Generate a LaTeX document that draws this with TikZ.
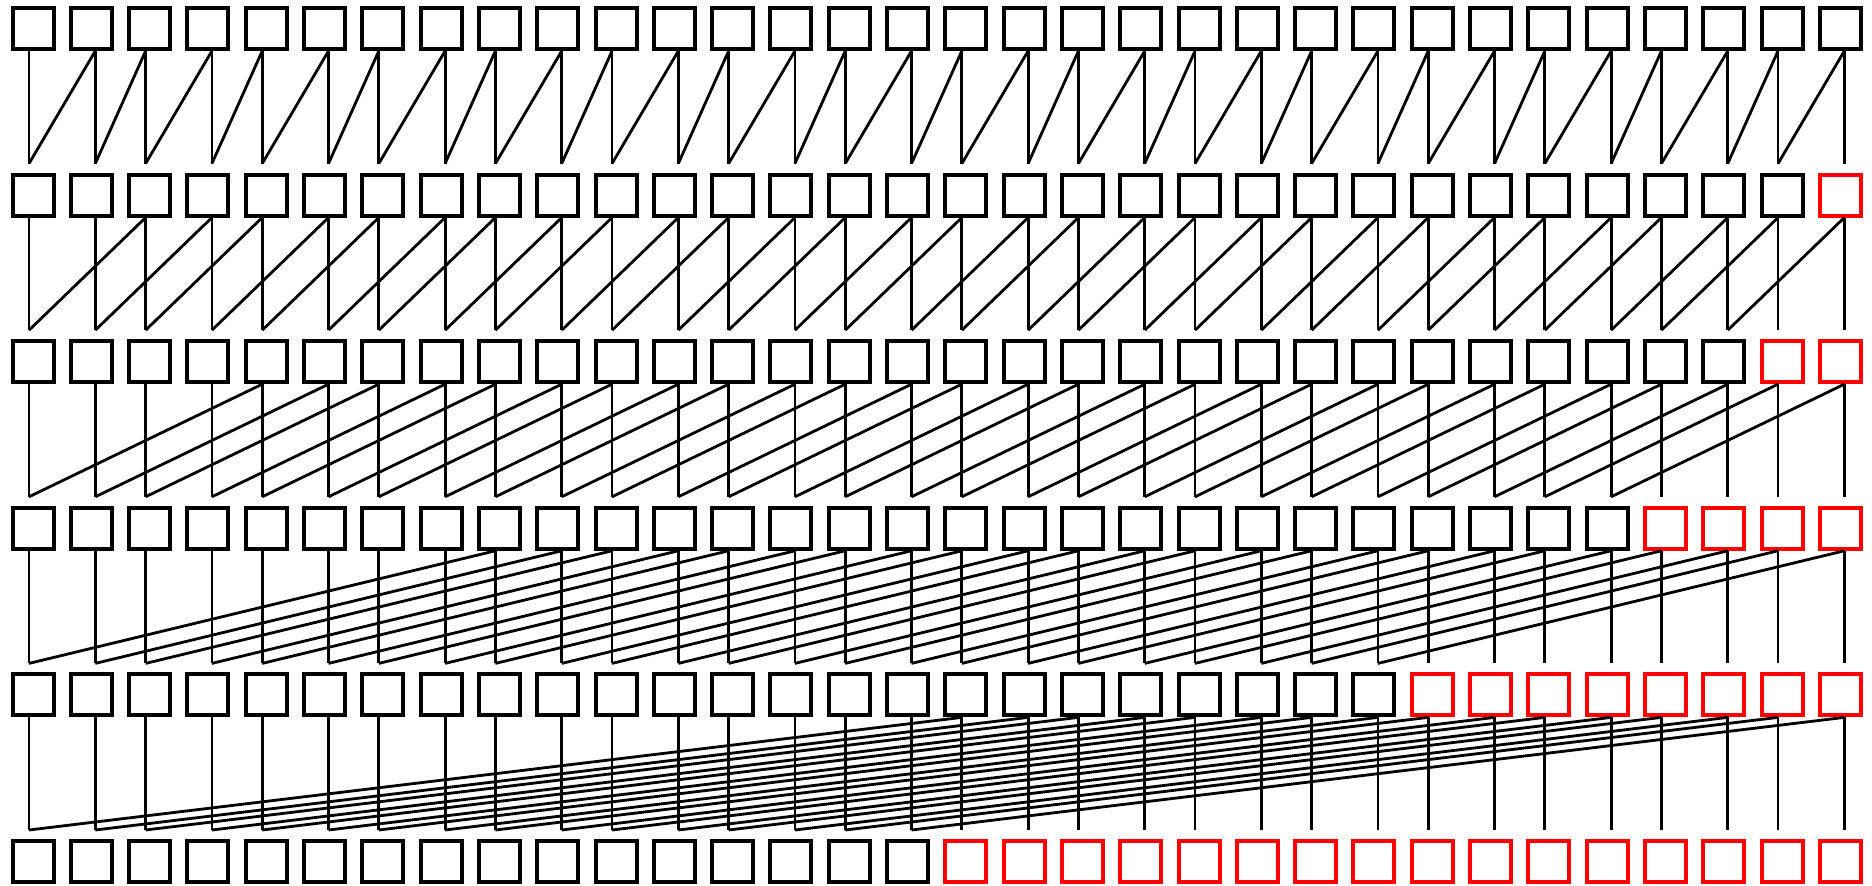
\documentclass[tikz,border=0pt]{standalone}
\usepackage{tikz}

\begin{document}
\begin{tikzpicture}[
  x=0.5pt, y=-0.5pt,
  cell/.style={draw, line width=2pt, minimum size=20.5pt, inner sep=0pt},
  wire/.style={line width=1.4pt}
]
\useasboundingbox (0,0) rectangle (1872,886);

% cells, finished ones in red
\foreach \r in {0,...,5}
  \foreach \i in {0,...,31} {
    \pgfmathtruncatemacro{\lim}{\r==0 ? 32 : 32-2^(\r-1)}
    \ifnum\i<\lim \def\col{black}\else\def\col{red}\fi
    \node[cell, draw=\col] (c-\r-\i) at ({33+58.3*\i},{28.5+166.6*\r}) {};
  }

% wires between the steps
\foreach \r in {1,...,5} {
  \pgfmathtruncatemacro{\p}{\r-1}
  \pgfmathtruncatemacro{\d}{2^(\r-1)}
  \foreach \i in {0,...,31} {
    \pgfmathsetmacro{\si}{mod(\i,2)==1 ? 2 : -2}
    \coordinate (t-\r-\i) at ([xshift=\si pt, yshift=4.5pt]c-\r-\i.north);
    \draw[wire] ([xshift=\si pt]c-\p-\i.south) -- (t-\r-\i);
    \pgfmathtruncatemacro{\j}{\i+\d}
    \pgfmathsetmacro{\sj}{mod(\j,2)==1 ? 2 : -2}
    \ifnum\j<32 \draw[wire] ([xshift=\sj pt]c-\p-\j.south) -- (t-\r-\i); \fi
  }
}
\end{tikzpicture}
\end{document}
